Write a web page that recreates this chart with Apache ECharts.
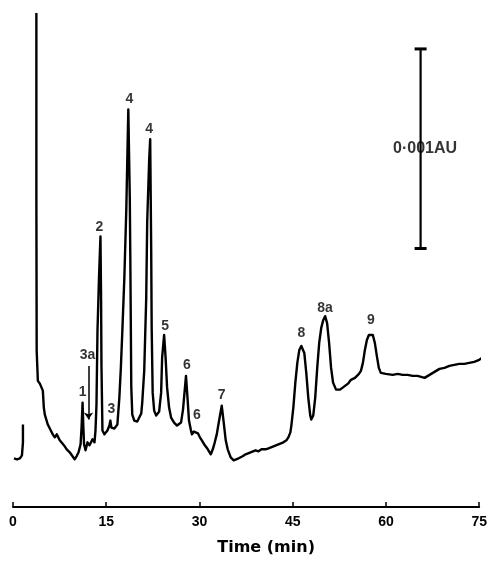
<!DOCTYPE html>
<html>
<head>
<meta charset="utf-8">
<script src="https://cdn.jsdelivr.net/npm/echarts@6/dist/echarts.min.js"></script>
<style>
html,body{margin:0;padding:0;background:#fff;}
#chart{width:490px;height:561px;}
</style>
</head>
<body>
<div id="chart"></div>
<script>
// Time axis ticks (min)
const xTicks = [0, 15, 30, 45, 60, 75];

// Pre-injection baseline stub (time in min, absorbance in mAU)
const stubTime = [0.16, 0.64, 1.12, 1.44, 1.60, 1.60];
const stubAbs  = [0.244, 0.239, 0.244, 0.259, 0.324, 0.413];

// Main chromatogram trace (time in min, absorbance in mAU)
const traceTime = [
  3.76, 3.76, 3.81, 4.00, 4.32, 4.64, 4.80, 4.96, 5.12, 5.60, 6.08, 6.40, 6.72, 7.04, 7.20, 7.52, 7.84, 8.32, 8.64, 9.12,
  9.44, 9.92, 10.23, 10.55, 10.87, 11.03, 11.19, 11.32, 11.43, 11.67, 11.99, 12.31, 12.47, 12.79, 12.95, 13.11, 13.27, 13.43, 13.59, 13.83,
  14.07, 14.17, 14.23, 14.39, 14.71, 15.19, 15.51, 15.67, 15.83, 15.99, 16.31, 16.63, 16.79, 17.11, 17.35, 17.59, 17.91, 18.23, 18.55, 18.79,
  18.87, 19.03, 19.19, 19.51, 19.99, 20.31, 20.63, 20.79, 21.11, 21.43, 21.59, 21.91, 22.07, 22.23, 22.31, 22.47, 22.71, 23.03, 23.51, 23.83,
  23.99, 24.31, 24.55, 24.79, 25.11, 25.43, 25.91, 26.39, 26.71, 27.03, 27.35, 27.59, 27.83, 28.07, 28.31, 28.63, 28.79, 29.11, 29.43, 29.75,
  30.06, 30.38, 30.86, 31.34, 31.82, 32.14, 32.46, 32.78, 33.10, 33.58, 33.90, 34.22, 34.54, 35.02, 35.50, 35.82, 36.30, 36.94, 37.42, 38.22,
  39.02, 39.50, 39.98, 40.62, 41.10, 41.90, 42.70, 43.50, 43.98, 44.30, 44.62, 44.78, 45.10, 45.42, 45.74, 46.06, 46.38, 46.54, 46.86, 47.18,
  47.50, 47.82, 47.98, 48.30, 48.62, 48.94, 49.26, 49.58, 49.90, 50.21, 50.53, 50.85, 51.17, 51.49, 51.97, 52.61, 53.25, 53.89, 54.37, 55.01,
  55.65, 55.97, 56.29, 56.61, 56.93, 57.25, 57.57, 57.89, 58.21, 58.53, 58.85, 59.17, 59.97, 61.09, 61.89, 62.69, 63.49, 64.29, 65.09, 66.21,
  67.01, 67.81, 68.61, 69.41, 70.20, 71.00, 71.80, 72.60, 73.40, 74.20, 75.00, 75.80
];
const traceAbs = [
  2.475, 1.544, 0.782, 0.632, 0.618, 0.608, 0.583, 0.498, 0.463, 0.413, 0.383, 0.364, 0.349, 0.364, 0.359, 0.334, 0.324, 0.304, 0.289, 0.274,
  0.264, 0.239, 0.254, 0.274, 0.314, 0.398, 0.523, 0.398, 0.314, 0.284, 0.324, 0.309, 0.309, 0.339, 0.329, 0.324, 0.383, 0.513, 0.881, 1.145,
  1.355, 1.046, 0.712, 0.383, 0.364, 0.383, 0.408, 0.433, 0.398, 0.388, 0.393, 0.403, 0.413, 0.548, 0.697, 0.881, 1.145, 1.494, 1.992, 1.544,
  1.260, 0.598, 0.463, 0.433, 0.428, 0.438, 0.468, 0.523, 0.682, 1.046, 1.429, 1.743, 1.843, 1.295, 0.896, 0.573, 0.483, 0.458, 0.478, 0.573,
  0.747, 0.862, 0.747, 0.598, 0.498, 0.448, 0.423, 0.408, 0.398, 0.423, 0.488, 0.573, 0.657, 0.548, 0.433, 0.383, 0.364, 0.378, 0.388, 0.369,
  0.349, 0.334, 0.309, 0.289, 0.264, 0.289, 0.324, 0.364, 0.423, 0.508, 0.423, 0.334, 0.289, 0.249, 0.234, 0.229, 0.244, 0.254, 0.264, 0.274,
  0.284, 0.279, 0.289, 0.289, 0.294, 0.304, 0.314, 0.324, 0.334, 0.349, 0.374, 0.408, 0.498, 0.623, 0.722, 0.787, 0.807, 0.812, 0.772, 0.672,
  0.548, 0.458, 0.438, 0.458, 0.548, 0.697, 0.822, 0.896, 0.936, 0.956, 0.921, 0.822, 0.697, 0.623, 0.588, 0.588, 0.603, 0.618, 0.637, 0.647,
  0.667, 0.682, 0.722, 0.787, 0.837, 0.862, 0.872, 0.862, 0.822, 0.757, 0.697, 0.672, 0.667, 0.662, 0.667, 0.662, 0.662, 0.657, 0.657, 0.647,
  0.662, 0.677, 0.692, 0.697, 0.707, 0.712, 0.717, 0.717, 0.722, 0.727, 0.737, 0.757
];

// Peak labels
const peakNames    = ['1', '3a', '2', '3', '4', '4', '5', '6', '6', '7', '8', '8a', '9'];
const peakLabelTime = [11.19, 11.99, 13.91, 15.83, 18.71, 21.91, 24.47, 27.99, 29.59, 33.58, 46.38, 50.21, 57.57];
const peakLabelAbs  = [0.573, 0.762, 1.404, 0.488, 2.042, 1.892, 0.906, 0.712, 0.458, 0.558, 0.872, 0.996, 0.936];

// Arrow pointing at peak 3a
const arrowTime = 12.15;
const arrowFrom = 0.707;
const arrowTo   = 0.438;

// Scale bar: 0.001 AU = 1 mAU
const scaleBarTime = 65.57;
const scaleBarBottom = 1.295;
const scaleBarLength = 1.0;
const scaleBarText = '0·001AU';
const scaleBarTextTime = 66.29;

const chart = echarts.init(document.getElementById('chart'), null, {renderer: 'canvas'});
const ink = '#000';
const labelFont = '"Liberation Sans", Arial, sans-serif';

const option = {
  animation: false,
  backgroundColor: '#fff',
  grid: {left: 13, right: 8, top: 8, bottom: 51},
  xAxis: {
    type: 'value',
    min: xTicks[0],
    max: xTicks[xTicks.length - 1],
    interval: xTicks[1] - xTicks[0],
    name: 'Time (min)',
    nameLocation: 'middle',
    nameGap: 33,
    nameTextStyle: {
      fontFamily: '"DejaVu Sans", sans-serif',
      fontWeight: 'bold',
      fontSize: 16,
      color: ink,
      padding: [0, 0, 0, 40]
    },
    axisLine: {show: true, lineStyle: {color: ink, width: 2}},
    axisTick: {show: true, inside: true, length: 5, lineStyle: {color: ink, width: 1.5}},
    axisLabel: {
      show: true,
      margin: 8,
      showMinLabel: true,
      showMaxLabel: true,
      fontFamily: labelFont,
      fontWeight: 'bold',
      fontSize: 14,
      color: ink
    },
    splitLine: {show: false}
  },
  yAxis: {
    type: 'value',
    min: 0,
    max: 2.5,
    show: false,
    splitLine: {show: false}
  },
  series: [
    {
      type: 'line',
      data: stubTime.map((t, i) => [t, stubAbs[i]]),
      symbol: 'none',
      lineStyle: {color: ink, width: 2.4},
      silent: true
    },
    {
      type: 'line',
      data: traceTime.map((t, i) => [t, traceAbs[i]]),
      symbol: 'none',
      clip: false,
      lineStyle: {color: ink, width: 2.4, join: 'round'},
      silent: true
    },
    {
      type: 'line',
      data: [[scaleBarTime, scaleBarBottom], [scaleBarTime, scaleBarBottom + scaleBarLength]],
      symbol: 'rect',
      symbolSize: [12, 3],
      itemStyle: {color: ink},
      lineStyle: {color: ink, width: 2.2},
      silent: true
    },
    {
      type: 'scatter',
      data: [{name: scaleBarText, value: [scaleBarTextTime, scaleBarBottom + scaleBarLength / 2]}],
      symbolSize: 0,
      itemStyle: {color: ink},
      silent: true,
      label: {
        show: true,
        position: 'inside',
        formatter: p => p.name,
        fontFamily: labelFont,
        fontWeight: 'bold',
        fontSize: 16,
        color: ink,
        textBorderWidth: 0,
        backgroundColor: '#fff',
        padding: [7, 2]
      }
    },
    {
      type: 'scatter',
      data: peakNames.map((n, i) => ({name: n, value: [peakLabelTime[i], peakLabelAbs[i]]})),
      symbolSize: 0,
      itemStyle: {color: ink},
      silent: true,
      label: {
        show: true,
        position: 'inside',
        formatter: p => p.name,
        fontFamily: labelFont,
        fontWeight: 'bold',
        fontSize: 14,
        color: ink,
        textBorderWidth: 0
      },
      markLine: {
        silent: true,
        symbol: ['none', 'arrow'],
        symbolSize: 7,
        label: {show: false},
        lineStyle: {color: ink, width: 1.5, type: 'solid'},
        data: [[{coord: [arrowTime, arrowFrom]}, {coord: [arrowTime, arrowTo]}]]
      }
    }
  ]
};
chart.setOption(option);
</script>
</body>
</html>
